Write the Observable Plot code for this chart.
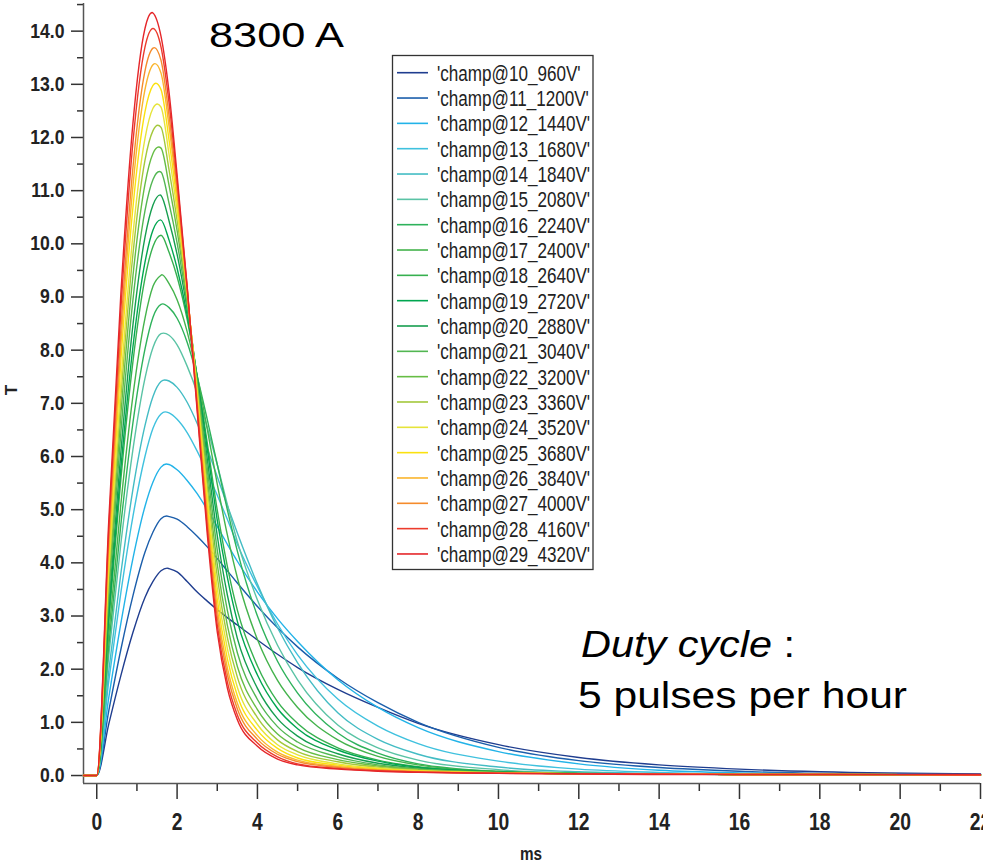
<!DOCTYPE html>
<html><head><meta charset="utf-8">
<script src="https://cdn.jsdelivr.net/npm/d3@7"></script>
<script src="https://cdn.jsdelivr.net/npm/@observablehq/plot@0.6"></script>
<style>
html,body{margin:0;padding:0;background:#fff;}
#chart{position:relative;width:983px;height:863px;overflow:hidden;}
</style></head><body><div id="chart"></div>
<script>
// ---- data ----
const times = [-0.33, 0, 0.3, 0.6, 0.9, 1.2, 1.4, 1.6, 1.8, 2.0, 2.25, 2.5, 2.75, 3.0, 3.25, 3.5, 4.0, 4.5, 5.0, 6.0, 7.0, 8.0, 10, 12, 14, 16, 18, 22];
const seriesNames = ["10_960V","11_1200V","12_1440V","13_1680V","14_1840V","15_2080V","16_2240V","17_2400V","18_2640V","19_2720V","20_2880V","21_3040V","22_3200V","23_3360V","24_3520V","25_3680V","26_3840V","27_4000V","28_4160V","29_4320V"];
const peakTimes  = [1.75, 1.74, 1.73, 1.70, 1.69, 1.66, 1.64, 1.62, 1.60, 1.59, 1.58, 1.56, 1.54, 1.52, 1.51, 1.47, 1.45, 1.43, 1.40, 1.38];
const peakValues = [3.90, 4.88, 5.86, 6.84, 7.44, 8.32, 8.87, 9.42, 10.16, 10.45, 10.92, 11.36, 11.82, 12.23, 12.63, 13.02, 13.39, 13.69, 14.05, 14.35];
const colors = ["#1f3d8f","#1b5eab","#22b3e8","#3fc1de","#43bcc4","#5ac3a5","#2eb25b","#44b34c","#37b04f","#00a650","#169e4f","#52b652","#66bd45","#a3c83b","#e6e43a","#fbe10f","#fab52d","#f58b2b","#ec3b2c","#e5262a"];

const c10 = [0,0,0.97,1.88,2.69,3.35,3.65,3.85,3.89,3.83,3.65,3.45,3.28,3.12,2.97,2.83,2.55,2.28,2.03,1.62,1.28,0.98,0.58,0.34,0.20,0.12,0.07,0.03];
const c11 = [0,0,1.22,2.37,3.38,4.2,4.58,4.83,4.87,4.82,4.68,4.5,4.3,4.08,3.85,3.62,3.18,2.78,2.42,1.83,1.37,1.0,0.53,0.28,0.15,0.08,0.04,0.02];
const c12 = [0,0,1.47,2.86,4.08,5.06,5.52,5.8,5.85,5.75,5.55,5.3,5.0,4.68,4.35,4.03,3.45,2.95,2.52,1.8,1.28,0.9,0.45,0.22,0.1,0.05,0.03,0.01];
const c13 = [0,0,1.78,3.44,4.87,6.0,6.53,6.8,6.82,6.7,6.45,6.1,5.7,5.27,4.82,4.35,3.55,2.85,2.27,1.44,0.93,0.6,0.27,0.12,0.06,0.03,0.02,0.01];
const c14 = [0,0,1.97,3.8,5.38,6.58,7.13,7.41,7.42,7.3,7.02,6.62,6.15,5.62,5.08,4.56,3.6,2.78,2.12,1.18,0.68,0.4,0.16,0.07,0.04,0.02,0.02,0.01];
const c15 = [0,0,2.26,4.36,6.13,7.47,8.05,8.31,8.28,8.1,7.7,7.2,6.55,5.85,5.1,4.4,3.3,2.45,1.8,0.95,0.52,0.29,0.11,0.05,0.03,0.02,0.02,0.01];
const c16 = [0,0,2.45,4.72,6.63,8.02,8.62,8.86,8.8,8.6,8.15,7.5,6.7,5.85,5.0,4.22,3.0,2.15,1.55,0.8,0.42,0.22,0.08,0.04,0.03,0.02,0.02,0.01];
const c17 = [0,0,2.65,5.1,7.14,8.6,9.2,9.41,9.25,8.95,8.35,7.52,6.52,5.48,4.53,3.72,2.56,1.79,1.28,0.67,0.36,0.2,0.075,0.04,0.03,0.02,0.02,0.01];
const c18 = [0,0,2.9,5.57,7.78,9.35,9.95,10.16,9.84,9.38,8.58,7.51,6.26,4.99,3.94,3.11,2.06,1.39,0.98,0.52,0.29,0.166,0.07,0.035,0.03,0.02,0.02,0.01];
const c19 = [0,0,3.02,5.78,8.06,9.65,10.26,10.45,10.07,9.54,8.66,7.49,6.15,4.80,3.73,2.90,1.89,1.26,0.88,0.48,0.27,0.155,0.067,0.035,0.03,0.02,0.02,0.01];
const c20 = [0,0,3.18,6.08,8.47,10.12,10.73,10.91,10.43,9.80,8.77,7.46,5.96,4.51,3.40,2.58,1.64,1.07,0.74,0.41,0.23,0.14,0.063,0.035,0.03,0.02,0.02,0.01];
const c21 = [0,0,3.38,6.45,8.94,10.62,11.21,11.35,10.76,10.02,8.86,7.41,5.79,4.24,3.11,2.31,1.43,0.92,0.63,0.35,0.20,0.126,0.06,0.035,0.03,0.02,0.02,0.01];
const c22 = [0,0,3.56,6.79,9.39,11.12,11.7,11.8,11.10,10.25,8.95,7.35,5.60,3.97,2.83,2.05,1.24,0.78,0.53,0.30,0.18,0.113,0.057,0.035,0.03,0.02,0.02,0.01];
const c23 = [0,0,3.73,7.11,9.8,11.57,12.13,12.19,11.39,10.44,9.01,7.28,5.43,3.74,2.60,1.85,1.09,0.67,0.45,0.26,0.157,0.102,0.054,0.035,0.03,0.02,0.02,0.01];
const c24 = [0,0,3.88,7.38,10.17,11.98,12.55,12.57,11.68,10.62,9.07,7.22,5.26,3.52,2.39,1.66,0.96,0.58,0.39,0.22,0.139,0.093,0.051,0.035,0.03,0.02,0.02,0.01];
const c25 = [0,0,4.1,7.79,10.68,12.48,12.98,12.90,11.95,10.78,9.11,7.14,5.10,3.32,2.20,1.50,0.85,0.51,0.33,0.195,0.123,0.084,0.048,0.035,0.03,0.02,0.02,0.01];
const c26 = [0,0,4.28,8.1,11.08,12.9,13.37,13.21,12.21,10.94,9.14,7.06,4.94,3.14,2.03,1.36,0.75,0.44,0.29,0.171,0.109,0.077,0.046,0.035,0.03,0.02,0.02,0.01];
const c27 = [0,0,4.43,8.38,11.43,13.25,13.68,13.45,12.41,11.05,9.16,7.00,4.82,2.99,1.90,1.25,0.68,0.40,0.26,0.153,0.099,0.071,0.044,0.035,0.03,0.02,0.02,0.01];
const c28 = [0,0,4.64,8.76,11.9,13.7,14.05,13.70,12.65,11.19,9.19,6.92,4.67,2.83,1.76,1.14,0.61,0.35,0.22,0.134,0.089,0.065,0.042,0.035,0.03,0.02,0.02,0.01];
const c29 = [0,0,4.81,9.06,12.26,14.05,14.34,13.90,12.85,11.3,9.2,6.85,4.55,2.7,1.65,1.05,0.55,0.31,0.2,0.12,0.08,0.06,0.04,0.03,0.02,0.02,0.02,0.02];
const seriesValues = [c10,c11,c12,c13,c14,c15,c16,c17,c18,c19,c20,c21,c22,c23,c24,c25,c26,c27,c28,c29];

const yTicks = [0,1,2,3,4,5,6,7,8,9,10,11,12,13,14];
const yMinorTicks = [0.5,1.5,2.5,3.5,4.5,5.5,6.5,7.5,8.5,9.5,10.5,11.5,12.5,13.5,14.5];
const xTicks = [0,2,4,6,8,10,12,14,16,18,20,22];
const xMinorTicks = [1,3,5,7,9,11,13,15,17,19,21];
const xDomain = [-0.33, 22];
const yDomain = [-0.15, 14.52];

// ---- build table ----
const data = [];
seriesNames.forEach((name, i) => {
  const pts = [];
  times.forEach((t, j) => { if (Math.abs(t - peakTimes[i]) > 0.012) pts.push({t, v: seriesValues[i][j]}); });
  pts.push({t: peakTimes[i], v: peakValues[i]});
  pts.sort((a, b) => a.t - b.t);
  pts.forEach(p => data.push({series: name, t: p.t, v: p.v}));
});

const FONT = "'Liberation Sans', Arial, Helvetica, sans-serif";

const chart = Plot.plot({
  width: 983, height: 863,
  marginTop: 3, marginBottom: 80, marginLeft: 83, marginRight: 3,
  style: {fontFamily: FONT, color: "#333", background: "white", overflow: "visible"},
  x: {domain: xDomain},
  y: {domain: yDomain},
  color: {domain: seriesNames, range: colors},
  marks: [
    Plot.axisY({ticks: yTicks, tickSize: 12, tickPadding: 7, tickFormat: d => d.toFixed(1), fontSize: 20, fontWeight: "bold", fill: "#222", strokeWidth: 1.5, label: null}),
    Plot.axisY({ticks: yMinorTicks, tickSize: 6, tickFormat: () => "", strokeWidth: 1.5, label: null}),
    Plot.axisX({ticks: xTicks, tickSize: 16, tickPadding: 14, fontSize: 23, fontWeight: "bold", fill: "#222", strokeWidth: 1.5, label: null}),
    Plot.axisX({ticks: xMinorTicks, tickSize: 8, tickFormat: () => "", strokeWidth: 1.5, label: null}),
    Plot.ruleX([xDomain[0]], {stroke: "#555", strokeWidth: 1.5}),
    Plot.ruleY([yDomain[0]], {stroke: "#555", strokeWidth: 1.5}),
    Plot.line(data, {x: "t", y: "v", z: "series", stroke: "series", curve: "monotone-x", strokeWidth: 1.4})
  ]
});
document.getElementById("chart").appendChild(chart);

function squeeze(el, factor) {
  if (!el.textContent) return;
  const w = el.getComputedTextLength();
  if (w > 0) { el.setAttribute("textLength", (w * factor).toFixed(1)); el.setAttribute("lengthAdjust", "spacingAndGlyphs"); }
}
const svg = d3.select(chart);
svg.selectAll('g[aria-label="y-axis tick label"] text').each(function() { squeeze(this, 0.88); });
svg.selectAll('g[aria-label="x-axis tick label"] text').each(function() { squeeze(this, 0.84); });

// axis titles
const ms = svg.append("text").attr("x", 531).attr("y", 860).attr("text-anchor", "middle")
  .attr("font-family", FONT).attr("font-weight", "bold").attr("font-size", 18).attr("fill", "#222").text("ms");
squeeze(ms.node(), 0.85);
svg.append("text").attr("transform", "translate(17,390) rotate(-90)").attr("text-anchor", "middle")
  .attr("font-family", FONT).attr("font-weight", "bold").attr("font-size", 17).attr("fill", "#222").text("T");

// legend
const lg = svg.append("g").attr("text-anchor", "start");
lg.append("rect").attr("x", 392.5).attr("y", 55.5).attr("width", 200.5).attr("height", 514)
  .attr("fill", "white").attr("stroke", "#333").attr("stroke-width", 1.3);
seriesNames.forEach((n, i) => {
  const cy = 72.7 + i * 25.33;
  lg.append("line").attr("x1", 397).attr("x2", 428).attr("y1", cy).attr("y2", cy)
    .attr("stroke", colors[i]).attr("stroke-width", 1.6);
  const tx = lg.append("text").attr("x", 437).attr("y", cy + 8).attr("text-anchor", "start").attr("font-family", FONT)
    .attr("font-size", 22).attr("fill", "#222").text(`'champ@${n}'`);
  squeeze(tx.node(), 0.777);
});

// annotations
const ann = svg.append("g").attr("text-anchor", "start");
const a1 = ann.append("text").attr("x", 209).attr("y", 47).attr("text-anchor", "start").attr("font-family", FONT)
  .attr("font-size", 35).attr("fill", "#000").text("8300 A");
a1.attr("textLength", 135).attr("lengthAdjust", "spacingAndGlyphs");
const a2 = ann.append("text").attr("x", 581).attr("y", 657).attr("text-anchor", "start").attr("font-family", FONT)
  .attr("font-size", 37).attr("fill", "#000");
a2.append("tspan").attr("font-style", "italic").text("Duty cycle");
a2.append("tspan").text(" :");
a2.attr("textLength", 214).attr("lengthAdjust", "spacingAndGlyphs");
const a3 = ann.append("text").attr("x", 578).attr("y", 708).attr("text-anchor", "start").attr("font-family", FONT)
  .attr("font-size", 37).attr("fill", "#000").text("5 pulses per hour");
a3.attr("textLength", 329).attr("lengthAdjust", "spacingAndGlyphs");
</script>
</body></html>
